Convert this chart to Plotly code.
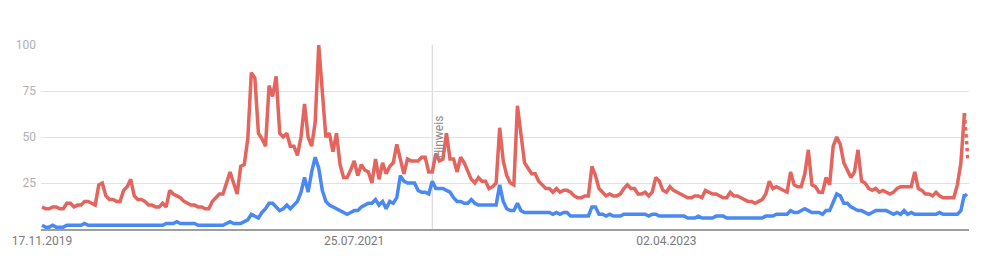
import pandas as pd
import plotly.graph_objects as go

START_DATE = "2019-11-17"
NOTE_DATE = "2021-12-26"
NOTE_TEXT = "Hinweis"
TICK_DATES = ["2019-11-17", "2021-07-25", "2023-04-02"]
TICK_LABELS = ["17.11.2019", "25.07.2021", "02.04.2023"]
Y_TICKS = [25, 50, 75, 100]

red_values = [
    12, 11, 11, 12, 12, 11, 11, 14, 14, 12,
    13, 13, 15, 15, 14, 13, 24, 25, 18, 16,
    16, 15, 15, 21, 23, 27, 18, 16, 16, 15,
    13, 13, 12, 12, 14, 12, 21, 19, 18, 17,
    15, 14, 13, 13, 12, 12, 11, 11, 15, 17,
    19, 19, 25, 31, 25, 19, 34, 35, 49, 85,
    82, 52, 49, 45, 78, 72, 83, 52, 50, 52,
    45, 45, 40, 50, 68, 50, 45, 58, 100, 76,
    50, 52, 42, 52, 35, 28, 28, 32, 37, 29,
    35, 32, 31, 25, 38, 27, 36, 30, 34, 36,
    46, 38, 30, 38, 37, 37, 37, 39, 39, 31,
    31, 41, 37, 38, 52, 38, 38, 31, 39, 36,
    31, 27, 25, 28, 26, 26, 22, 23, 25, 55,
    37, 29, 25, 24, 67, 50, 36, 33, 30, 30,
    26, 24, 22, 22, 20, 22, 20, 21, 21, 20,
    18, 17, 17, 18, 18, 34, 29, 22, 20, 18,
    19, 18, 18, 19, 22, 24, 22, 22, 19, 19,
    20, 18, 20, 28, 26, 21, 20, 23, 21, 20,
    19, 18, 17, 17, 18, 18, 17, 21, 20, 19,
    19, 18, 17, 17, 20, 18, 18, 17, 16, 15,
    15, 14, 15, 16, 19, 26, 22, 23, 22, 21,
    20, 31, 24, 23, 23, 30, 43, 24, 23, 20,
    20, 28, 24, 45, 50, 46, 36, 32, 28, 31,
    43, 26, 25, 22, 21, 22, 20, 21, 20, 19,
    20, 22, 23, 23, 23, 23, 31, 22, 21, 19,
    19, 18, 20, 18, 17, 17, 17, 17, 24, 36,
    63, 37,
]

blue_values = [
    2, 1, 1, 2, 1, 1, 1, 2, 2, 2,
    2, 2, 3, 2, 2, 2, 2, 2, 2, 2,
    2, 2, 2, 2, 2, 2, 2, 2, 2, 2,
    2, 2, 2, 2, 2, 3, 3, 3, 4, 3,
    3, 3, 3, 3, 2, 2, 2, 2, 2, 2,
    2, 2, 3, 4, 3, 3, 3, 4, 5, 8,
    7, 6, 9, 11, 14, 14, 12, 10, 11, 13,
    11, 13, 15, 20, 28, 20, 31, 39, 33, 21,
    15, 13, 12, 11, 10, 9, 8, 9, 10, 10,
    12, 13, 14, 14, 16, 13, 15, 11, 15, 14,
    17, 29, 26, 25, 25, 25, 21, 20, 20, 19,
    26, 22, 22, 22, 21, 20, 17, 15, 15, 14,
    14, 16, 14, 13, 13, 13, 13, 13, 13, 24,
    15, 11, 10, 10, 14, 10, 9, 9, 9, 9,
    9, 9, 9, 9, 8, 9, 8, 9, 9, 7,
    7, 7, 7, 7, 7, 12, 12, 8, 8, 7,
    8, 7, 7, 7, 8, 8, 8, 8, 8, 8,
    8, 7, 8, 8, 7, 7, 7, 7, 7, 7,
    7, 7, 6, 6, 6, 7, 6, 6, 6, 6,
    7, 7, 7, 6, 6, 6, 6, 6, 6, 6,
    6, 6, 6, 6, 7, 7, 7, 8, 8, 8,
    8, 10, 9, 9, 10, 11, 10, 9, 9, 9,
    8, 10, 10, 14, 19, 18, 14, 14, 12, 11,
    10, 10, 9, 8, 9, 10, 10, 10, 10, 9,
    8, 9, 8, 10, 8, 9, 8, 8, 8, 8,
    8, 8, 8, 9, 8, 8, 8, 8, 8, 10,
    19, 17,
]

RED = "#e3655d"
BLUE = "#4a89f3"

fig = go.Figure()


def add_series(values, color):
    dates = pd.date_range(START_DATE, periods=len(values), freq="7D")
    # complete part
    fig.add_trace(go.Scatter(
        x=dates[:-1], y=values[:-1], mode="lines",
        line=dict(color=color, width=3.5), cliponaxis=False,
        showlegend=False, hoverinfo="x+y"))
    # partial last week (dotted)
    fig.add_trace(go.Scatter(
        x=dates[-2:], y=values[-2:], mode="lines",
        line=dict(color=color, width=3.5, dash="dot"), cliponaxis=False,
        showlegend=False, hoverinfo="x+y"))


add_series(blue_values, BLUE)
add_series(red_values, RED)

fig.add_shape(type="line", xref="x", yref="paper", x0=NOTE_DATE, x1=NOTE_DATE,
              y0=0, y1=1, line=dict(color="#d0d0d0", width=1), layer="below")
fig.add_annotation(x=NOTE_DATE, y=50, xref="x", yref="y", text=NOTE_TEXT,
                   textangle=-90, showarrow=False, xshift=7,
                   font=dict(family="Roboto", size=12, color="#8a8a8a"))

fig.update_layout(
    width=986, height=260,
    margin=dict(l=38, r=17, t=45, b=30),
    paper_bgcolor="white", plot_bgcolor="white",
    font=dict(family="Roboto", size=12),
    xaxis=dict(
        range=["2019-11-15", "2024-11-19"],
        tickvals=TICK_DATES, ticktext=TICK_LABELS,
        showgrid=False, showline=True, linecolor="#9e9e9e", linewidth=1.5,
        ticks="", tickfont=dict(family="Roboto", size=12, color="#7a7a7a"),
        zeroline=False, fixedrange=True,
    ),
    yaxis=dict(
        range=[0, 100], tickvals=Y_TICKS,
        showgrid=True, gridcolor="#e2e2e2", gridwidth=1,
        showline=False, zeroline=False, ticks="",
        tickfont=dict(family="Roboto", size=12, color="#b0b0b0"),
        ticklabelstandoff=4, fixedrange=True,
    ),
)

fig.write_html("out.html")
